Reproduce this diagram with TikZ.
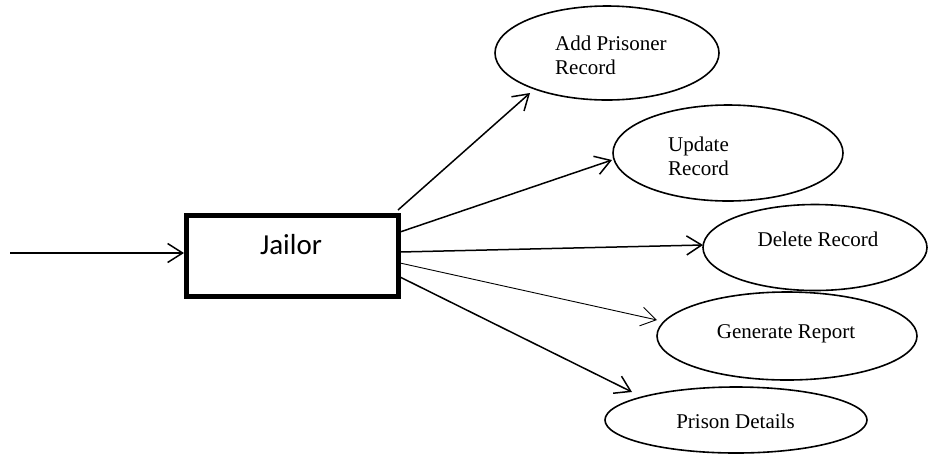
\documentclass[tikz,border=0pt]{standalone}
\usepackage{fontspec}
\setmainfont{Liberation Serif}
\newfontfamily\calib{Carlito}
\usetikzlibrary{arrows.meta,shapes.geometric,calc}
\tikzset{
  uc/.style={ellipse, draw, line width=1.6pt, inner sep=0pt, outer sep=0pt},
  lbl/.style={font=\fontsize{21}{24}\selectfont, inner sep=0pt, align=left},
  conn/.style={line width=1.5pt, -{Straight Barb[length=15pt,width=19pt]}},
  thinconn/.style={line width=0.9pt, -{Straight Barb[length=15pt,width=19pt]}},
  actor/.style={rectangle, draw, line width=5pt, inner sep=0pt, outer sep=0pt}
}
\begin{document}
\begin{tikzpicture}[x=1pt,y=-1pt]
\useasboundingbox (0,0) rectangle (928,459);
% actor box
\node[actor, minimum width=212pt, minimum height=81pt] (jailor) at (292,255.5) {};
\node[anchor=base, inner sep=0pt, font=\calib\fontsize{29}{32}\selectfont] (jt) at (291,254) {Jailor};
% use cases
\node[uc, minimum width=224pt, minimum height=94pt] (add) at (607,53) {};
\node[lbl, anchor=base west] (addt) at (555,74) {Add Prisoner\\Record};
\node[uc, minimum width=230pt, minimum height=96pt] (upd) at (728,153) {};
\node[lbl, anchor=base west] (updt) at (668,175) {Update\\Record};
\node[uc, minimum width=224pt, minimum height=86pt] (del) at (815,247.5) {};
\node[lbl, anchor=base] (delt) at (818,246) {Delete Record};
\node[uc, minimum width=260pt, minimum height=88pt] (gen) at (787,336) {};
\node[lbl, anchor=base] (gent) at (786,338) {Generate Report};
\node[uc, minimum width=262pt, minimum height=66pt] (pri) at (736,420) {};
\node[lbl, anchor=base] (prit) at (735.5,428) {Prison Details};
% input
\coordinate (src) at (10,253);
\draw[conn] (src) -- ($(jailor.west)+(-2,-2.5)$);
% outputs
\draw[conn] ($(jailor.center)+(106,-45.5)$) -- ($(add.center)+(-77,40)$);
\draw[conn] ($(jailor.center)+(108,-23.5)$) -- ($(upd.west)+(-1,7)$);
\draw[conn] ($(jailor.center)+(108,-3.5)$) -- ($(del.west)+(0,-2.5)$);
\draw[thinconn] ($(jailor.center)+(108,7.5)$) -- ($(gen.west)+(0,-16)$);
\draw[conn] ($(jailor.center)+(108,21.5)$) -- ($(pri.center)+(-104,-28)$);
\end{tikzpicture}
\end{document}
